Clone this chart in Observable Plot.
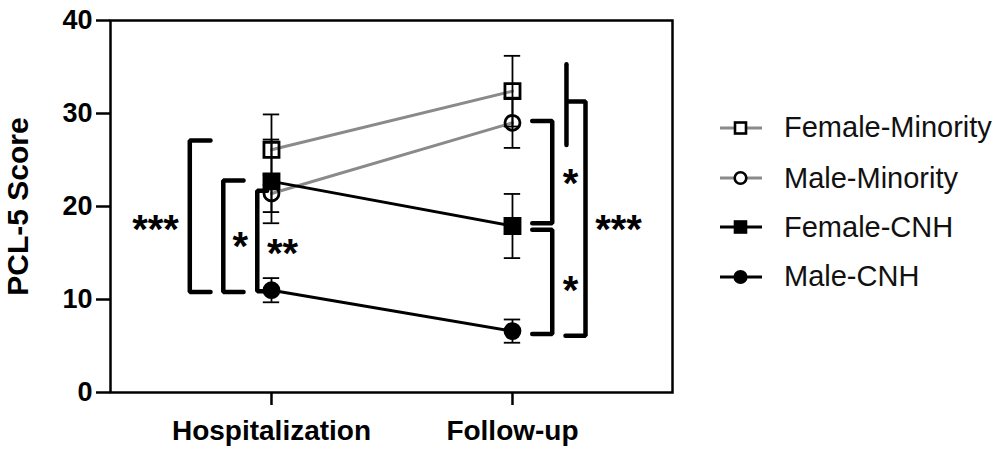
<!DOCTYPE html>
<html>
<head>
<meta charset="utf-8">
<script src="https://cdn.jsdelivr.net/npm/d3@7"></script>
<script src="https://cdn.jsdelivr.net/npm/@observablehq/plot@0.6"></script>
<style>
  body { margin: 0; background: #fff; font-family: "Liberation Sans", Arial, sans-serif; }
  #wrap { position: relative; width: 1003px; height: 450px; }
  #legend { position: absolute; left: 720px; top: 0; }
  .item { position: absolute; left: 0; display: flex; align-items: center; white-space: nowrap; }
  .item span { font-size: 29px; color: #111; margin-left: 22px; }
</style>
</head>
<body>
<div id="wrap"><div id="chart"></div><div id="legend"></div></div>
<script>
// ---- data ----
const timepoints = ["Hospitalization", "Follow-up"];
const groups = ["Female-Minority", "Male-Minority", "Female-CNH", "Male-CNH"];
const femaleMinorityMean = [26.1, 32.4];
const maleMinorityMean   = [21.4, 29.0];
const femaleCNHMean      = [22.7, 17.9];
const maleCNHMean        = [11.0, 6.6];
const femaleMinoritySEM  = [3.8, 3.8];
const maleMinoritySEM    = [2.0, 2.7];
const femaleCNHSEM       = [4.5, 3.45];
const maleCNHSEM         = [1.3, 1.25];
const yTicks = [0, 10, 20, 30, 40];

// significance brackets (x in time-index units, y in score units)
const bracketIds = ["L***", "L*", "L**", "R*up", "R*low", "R***", "R***stem"];
const bracketX = [
  [-0.253, -0.339, -0.339, -0.253],
  [-0.116, -0.200, -0.200, -0.116],
  [-0.018, -0.059, -0.059, -0.018],
  [1.082, 1.165, 1.165, 1.082],
  [1.082, 1.165, 1.165, 1.082],
  [1.234, 1.303, 1.303, 1.220],
  [1.224, 1.224]
];
const bracketY = [
  [27.1, 27.1, 10.8, 10.8],
  [22.8, 22.8, 10.8, 10.8],
  [21.7, 21.7, 10.9, 10.9],
  [29.2, 29.2, 18.2, 18.2],
  [17.5, 17.5, 6.3, 6.3],
  [31.3, 31.3, 6.1, 6.1],
  [35.3, 26.6]
];
const starText = ["***", "*", "**", "*", "*", "***"];
const starX = [-0.481, -0.129, 0.046, 1.241, 1.241, 1.440];
const starY = [18.5, 16.7, 16.0, 23.5, 12.0, 18.5];

// ---- build tables ----
const means = [femaleMinorityMean, maleMinorityMean, femaleCNHMean, maleCNHMean];
const sems = [femaleMinoritySEM, maleMinoritySEM, femaleCNHSEM, maleCNHSEM];
const style = {
  "Female-Minority": {line: "#8a8a8a", symbol: "square", fill: "none", r: 8.5},
  "Male-Minority":   {line: "#8a8a8a", symbol: "circle", fill: "none", r: 7.5},
  "Female-CNH":      {line: "#000", symbol: "square", fill: "#000", r: 8.5},
  "Male-CNH":        {line: "#000", symbol: "circle", fill: "#000", r: 7.5}
};
const rows = groups.flatMap((g, gi) => timepoints.map((t, ti) => ({
  group: g, t: ti, mean: means[gi][ti], sem: sems[gi][ti]
})));
const bracketRows = bracketIds.flatMap((id, i) => bracketX[i].map((x, j) => ({id, x, y: bracketY[i][j]})));
const stars = starText.map((s, i) => ({s, x: starX[i], y: starY[i]}));
const cap = 0.034;

const marks = [
  Plot.frame({stroke: "#000", strokeWidth: 2.5}),
  Plot.axisY(yTicks, {tickSize: 14, strokeWidth: 2.5, text: null, label: null}),
  Plot.axisY(yTicks, {tickSize: 0, tickPadding: 18, fontSize: 27, fontWeight: "bold", fill: "#000", label: null}),
  Plot.axisY([], {tickSize: 0, fontSize: 30, fontWeight: "bold", fill: "#000",
    label: "PCL-5 Score", labelAnchor: "center", labelOffset: 104, labelArrow: "none"}),
  Plot.axisX([0, 1], {tickSize: 13, strokeWidth: 2.5, tickPadding: 15, fontSize: 28, fontWeight: "bold",
    fill: "#000", tickFormat: i => timepoints[i], label: null})
];
for (const g of groups) {
  const d = rows.filter(r => r.group === g);
  marks.push(Plot.line(d, {x: "t", y: "mean", stroke: style[g].line, strokeWidth: 3}));
}
marks.push(Plot.ruleX(rows, {x: "t", y1: d => d.mean - d.sem, y2: d => d.mean + d.sem, stroke: "#000", strokeWidth: 1.8}));
marks.push(Plot.ruleY(rows, {y: d => d.mean - d.sem, x1: d => d.t - cap, x2: d => d.t + cap, stroke: "#000", strokeWidth: 1.8}));
marks.push(Plot.ruleY(rows, {y: d => d.mean + d.sem, x1: d => d.t - cap, x2: d => d.t + cap, stroke: "#000", strokeWidth: 1.8}));
for (const g of groups) {
  const d = rows.filter(r => r.group === g);
  marks.push(Plot.dot(d, {x: "t", y: "mean", symbol: () => style[g].symbol, r: style[g].r,
    fill: style[g].fill, stroke: "#000", strokeWidth: 2.8}));
}
marks.push(Plot.line(bracketRows, {x: "x", y: "y", z: "id", stroke: "#000", strokeWidth: 4.5,
  strokeLinecap: "round", strokeLinejoin: "miter", curve: "linear"}));
marks.push(Plot.text(stars, {x: "x", y: "y", text: "s", fontSize: 40, fontWeight: "bold", fill: "#000", dy: 10}));

const chart = Plot.plot({
  width: 1003, height: 450,
  marginLeft: 110, marginTop: 20, marginRight: 331, marginBottom: 58,
  style: {fontFamily: "'Liberation Sans', Arial, sans-serif", color: "#000", background: "#fff", overflow: "visible"},
  x: {type: "linear", domain: [-0.668, 1.664], axis: null},
  y: {domain: [0, 40], axis: null},
  symbol: {type: "identity"},
  marks
});
document.getElementById("chart").appendChild(chart);

// ---- legend ----
const legend = document.getElementById("legend");
const rowY = [126, 176.5, 225.5, 275];
groups.forEach((g, i) => {
  const s = style[g];
  const div = document.createElement("div");
  div.className = "item";
  div.style.top = (rowY[i] - 15) + "px";
  const fill = s.fill === "none" ? "#fff" : "#000";
  const mk = s.symbol === "square"
    ? `<rect x="15" y="9.5" width="11" height="11" fill="${fill}" stroke="#000" stroke-width="2.6"/>`
    : `<circle cx="20.5" cy="15" r="5.8" fill="${fill}" stroke="#000" stroke-width="2.6"/>`;
  div.innerHTML = `<svg width="42" height="30"><line x1="0" x2="42" y1="15" y2="15" stroke="${s.line}" stroke-width="3"/>${mk}</svg><span>${g}</span>`;
  legend.appendChild(div);
});
</script>
</body>
</html>
